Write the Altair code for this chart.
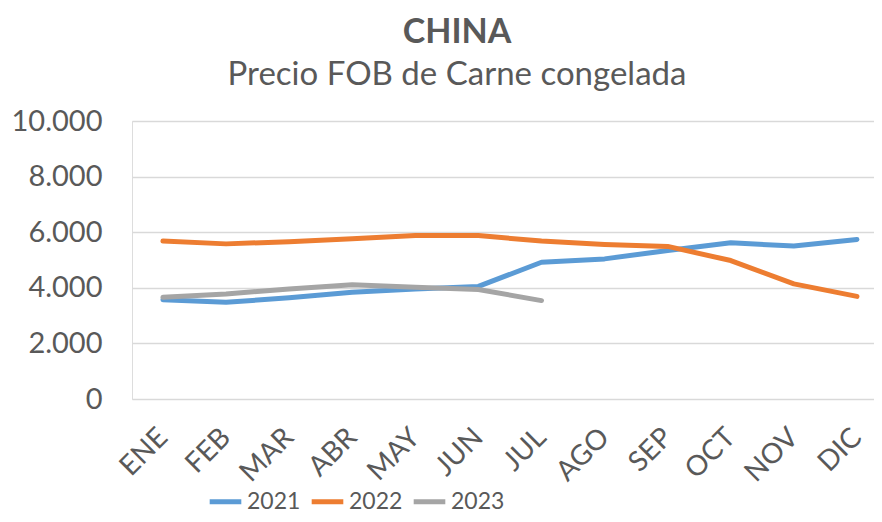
import altair as alt
import pandas as pd

months = ["ENE", "FEB", "MAR", "ABR", "MAY", "JUN", "JUL", "AGO", "SEP", "OCT", "NOV", "DIC"]
v2021 = [3570, 3480, 3640, 3840, 3960, 4050, 4920, 5040, 5340, 5620, 5500, 5740]
v2022 = [5680, 5580, 5660, 5760, 5880, 5880, 5680, 5560, 5490, 4980, 4140, 3690]
v2023 = [3660, 3780, 3960, 4110, 4020, 3940, 3540]

series = {"2021": v2021, "2022": v2022, "2023": v2023}
rows = []
for year, vals in series.items():
    for i, v in enumerate(vals):
        rows.append({"Mes": months[i], "Año": year, "Valor": v, "orden": i})
df = pd.DataFrame(rows)

FONT = "Lato"
TXT = "#595959"
month_js = "[" + ",".join("'%s'" % m for m in months) + "]"

chart = alt.Chart(df).mark_line(strokeWidth=5, strokeCap="round", strokeJoin="round").encode(
    x=alt.X("orden:Q", scale=alt.Scale(domain=[-0.49, 11.27], nice=False, zero=False),
            axis=alt.Axis(title=None, values=list(range(12)),
                          labelExpr=month_js + "[datum.value]",
                          labelAngle=-45, labelAlign="right", labelBaseline="middle",
                          labelFontSize=28, labelColor=TXT,
                          labelFont=FONT, domain=False, ticks=False, grid=False,
                          labelPadding=34, labelFlush=False, labelOverlap=False)),
    y=alt.Y("Valor:Q", scale=alt.Scale(domain=[0, 10000]),
            axis=alt.Axis(title=None, values=[0, 2000, 4000, 6000, 8000, 10000],
                          format=",.0f", labelFontSize=29, labelColor=TXT, labelFont=FONT,
                          domain=False, ticks=False, labelPadding=30,
                          gridColor="#D9D9D9", gridWidth=1.5)),
    color=alt.Color("Año:N",
                    scale=alt.Scale(domain=["2021", "2022", "2023"],
                                    range=["#5B9BD5", "#ED7D31", "#A5A5A5"]),
                    legend=alt.Legend(title=None, orient="none", direction="horizontal",
                                      legendX=75, legendY=362, symbolType="stroke",
                                      symbolStrokeWidth=5, symbolSize=1000,
                                      labelFontSize=23, labelColor=TXT, labelFont=FONT,
                                      labelOffset=3, columnPadding=0)),
    detail="Año:N",
    order="orden:Q",
).properties(
    width=742,
    height=278,
    autosize="none",
    padding={"left": 124, "top": 113, "right": 0, "bottom": 115},
    title=alt.TitleParams(text="CHINA", subtitle="Precio FOB de Carne congelada",
                          fontSize=34, fontWeight="bold", color=TXT, font=FONT,
                          subtitleFontSize=33, subtitleColor=TXT, subtitleFont=FONT,
                          subtitlePadding=9, anchor="middle", dx=-46, offset=15),
).configure_view(stroke=None).configure(
    locale={"number": {"decimal": ",", "thousands": ".", "grouping": [3], "currency": ["$", ""]}}
)

chart.save("out.html", embed_options={"renderer": "svg", "actions": False})
